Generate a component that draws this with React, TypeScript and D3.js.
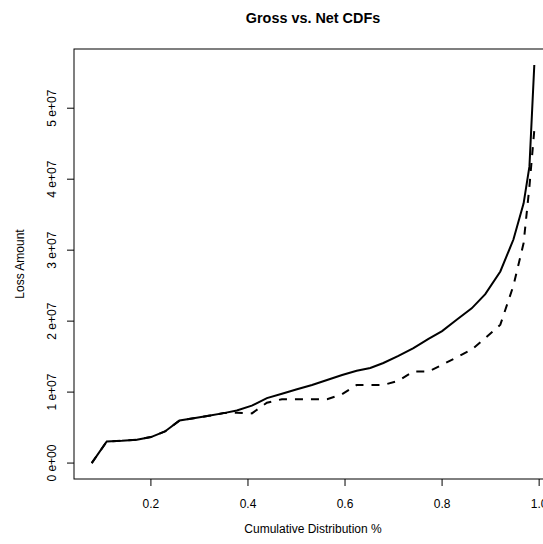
import { useEffect, useRef } from "react";
import * as d3 from "d3";

const cdfPct = [
  0.078, 0.109, 0.14, 0.171, 0.2, 0.229, 0.259, 0.288, 0.319, 0.35, 0.377, 0.408, 0.439, 0.47, 0.501,
  0.532, 0.563, 0.594, 0.624, 0.652, 0.679, 0.71, 0.741, 0.772, 0.8, 0.83, 0.861, 0.889, 0.92, 0.947,
  0.968, 0.98, 0.99,
];

// loss amounts in units of 1e7
const grossLoss = [
  0, 0.304, 0.314, 0.33, 0.366, 0.445, 0.6, 0.63, 0.666, 0.704, 0.741, 0.81, 0.915, 0.976, 1.04, 1.1,
  1.17, 1.24, 1.3, 1.34, 1.41, 1.51, 1.62, 1.75, 1.86, 2.02, 2.18, 2.38, 2.7, 3.15, 3.66, 4.18, 5.61,
];

const netLoss = [
  0, 0.304, 0.314, 0.33, 0.366, 0.445, 0.6, 0.63, 0.666, 0.704, 0.71, 0.7, 0.85, 0.9, 0.9, 0.9, 0.9,
  0.97, 1.1, 1.1, 1.1, 1.16, 1.29, 1.29, 1.385, 1.49, 1.6, 1.76, 1.95, 2.5, 3.1, 3.9, 4.69,
];

const xTicks = [0.2, 0.4, 0.6, 0.8, 1.0];
const yTicks = [0, 1, 2, 3, 4, 5];
const yTickLabels = ["0 e+00", "1 e+07", "2 e+07", "3 e+07", "4 e+07", "5 e+07"];

export default function App() {
  const ref = useRef<SVGSVGElement>(null);

  useEffect(() => {
    if (!ref.current) return;
    const svg = d3.select(ref.current);
    svg.selectAll("*").remove();

    const width = 543;
    const height = 544;
    const left = 74, right = 552, top = 49, bottom = 479;
    const font = "Liberation Sans, Arial, Helvetica, sans-serif";

    // R style 4% padding on the data range
    const xMin = d3.min(cdfPct)!, xMax = d3.max(cdfPct)!;
    const xPad = (xMax - xMin) * 0.04;
    const yMax = d3.max(grossLoss)!;
    const yPad = yMax * 0.04;

    const x = d3.scaleLinear().domain([xMin - xPad, xMax + xPad]).range([left, right]);
    const y = d3.scaleLinear().domain([-yPad, yMax + yPad]).range([bottom, top]);

    svg.attr("width", width).attr("height", height);
    svg.append("rect").attr("width", width).attr("height", height).attr("fill", "#fff");

    const line = d3
      .line<number>()
      .x((_, i) => x(cdfPct[i]))
      .y((d) => y(d));

    svg.append("path")
      .datum(netLoss)
      .attr("d", line)
      .attr("fill", "none")
      .attr("stroke", "#000")
      .attr("stroke-width", 2)
      .attr("stroke-dasharray", "8,8");

    svg.append("path")
      .datum(grossLoss)
      .attr("d", line)
      .attr("fill", "none")
      .attr("stroke", "#000")
      .attr("stroke-width", 2);

    svg.append("rect")
      .attr("x", left)
      .attr("y", top)
      .attr("width", right - left)
      .attr("height", bottom - top)
      .attr("fill", "none")
      .attr("stroke", "#000")
      .attr("stroke-width", 1);

    // x axis
    const xa = svg.append("g");
    xa.selectAll("line")
      .data(xTicks)
      .enter()
      .append("line")
      .attr("x1", (d) => x(d))
      .attr("x2", (d) => x(d))
      .attr("y1", bottom)
      .attr("y2", bottom + 7)
      .attr("stroke", "#000");
    xa.selectAll("text")
      .data(xTicks)
      .enter()
      .append("text")
      .attr("x", (d) => x(d))
      .attr("y", 508)
      .attr("text-anchor", "middle")
      .attr("font-family", font)
      .attr("font-size", 12)
      .text((d) => d.toFixed(1));

    // y axis
    const ya = svg.append("g");
    ya.selectAll("line")
      .data(yTicks)
      .enter()
      .append("line")
      .attr("x1", left)
      .attr("x2", left - 7)
      .attr("y1", (d) => y(d))
      .attr("y2", (d) => y(d))
      .attr("stroke", "#000");
    ya.selectAll("text")
      .data(yTicks)
      .enter()
      .append("text")
      .attr("transform", (d) => `translate(56,${y(d)}) rotate(-90)`)
      .attr("text-anchor", "middle")
      .attr("font-family", font)
      .attr("font-size", 12)
      .text((_, i) => yTickLabels[i]);

    svg.append("text")
      .attr("x", (left + right) / 2)
      .attr("y", 23)
      .attr("text-anchor", "middle")
      .attr("font-family", font)
      .attr("font-size", 14.4)
      .attr("font-weight", "bold")
      .text("Gross vs. Net CDFs");

    svg.append("text")
      .attr("x", (left + right) / 2)
      .attr("y", 533)
      .attr("text-anchor", "middle")
      .attr("font-family", font)
      .attr("font-size", 12)
      .text("Cumulative Distribution %");

    svg.append("text")
      .attr("transform", `translate(24,${(top + bottom) / 2}) rotate(-90)`)
      .attr("text-anchor", "middle")
      .attr("font-family", font)
      .attr("font-size", 12)
      .text("Loss Amount");
  }, []);

  return <svg ref={ref} style={{ position: "absolute", left: 0, top: 0 }} />;
}
